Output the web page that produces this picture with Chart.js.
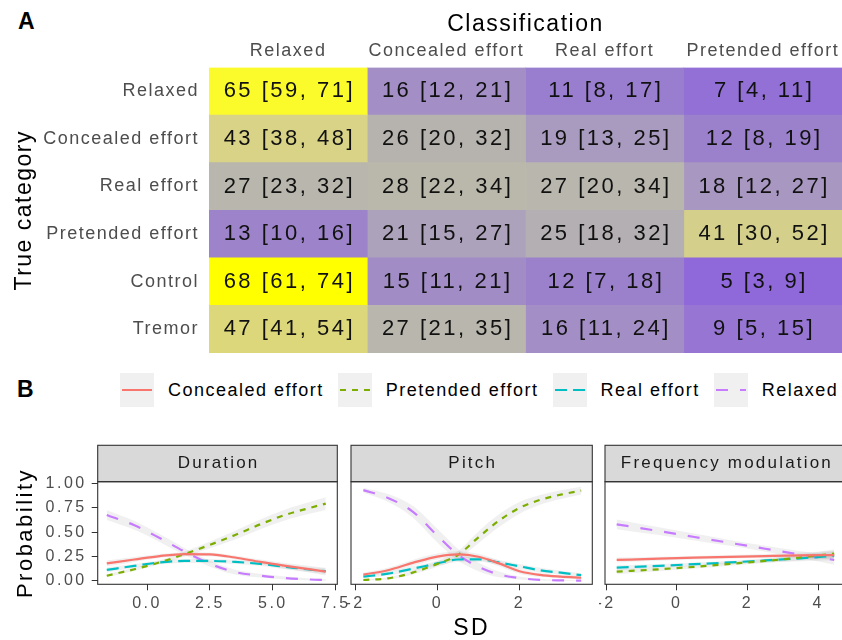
<!DOCTYPE html>
<html>
<head>
<meta charset="utf-8">
<script src="https://cdn.jsdelivr.net/npm/chart.js@4.4.1/dist/chart.umd.min.js"></script>
<style>
    html, body { margin: 0; padding: 0; background: #fff; width: 842px; height: 640px; overflow: hidden; }
    body { position: relative; font-family: 'Liberation Sans', Arial, sans-serif; }
    canvas.chart { position: absolute; }
    .tag { position: absolute; font-size: 23px; line-height: 23px; font-weight: bold; color: #000; }
    #legend { position: absolute; left: 120px; top: 373px; display: flex; align-items: center; }
    #legend .item { display: flex; align-items: center; margin-right: 14px; }
    #legend canvas { margin-right: 14px; }
    #legend span { font-size: 18px; letter-spacing: 1.5px; color: #000; white-space: nowrap; }
</style>
</head>
<body>
<div class="tag" style="left:18px;top:10px">A</div>
<div class="tag" style="left:17px;top:378px">B</div>
<canvas id="heat" class="chart" width="842" height="360" style="left:0;top:0"></canvas>
<div id="legend"></div>
<canvas id="fDur" class="chart" width="352" height="200" style="left:0;top:440px"></canvas>
<canvas id="fPit" class="chart" width="252" height="200" style="left:345px;top:440px"></canvas>
<canvas id="fFre" class="chart" width="260" height="200" style="left:599px;top:440px"></canvas>

<script>
// --- Panel A data: confusion matrix (% with 95% interval) ---
const rowNames = ['Relaxed', 'Concealed effort', 'Real effort', 'Pretended effort', 'Control', 'Tremor'];
const colNames = ['Relaxed', 'Concealed effort', 'Real effort', 'Pretended effort'];
const estimate = [
    [65, 16, 11, 7],
    [43, 26, 19, 12],
    [27, 28, 27, 18],
    [13, 21, 25, 41],
    [68, 15, 12, 5],
    [47, 27, 16, 9]
];
const lower = [
    [59, 12, 8, 4],
    [38, 20, 13, 8],
    [23, 22, 20, 12],
    [10, 15, 18, 30],
    [61, 11, 7, 3],
    [41, 21, 11, 5]
];
const upper = [
    [71, 21, 17, 11],
    [48, 32, 25, 19],
    [32, 34, 34, 27],
    [16, 27, 32, 52],
    [74, 21, 18, 9],
    [54, 35, 24, 15]
];

// --- Panel B data: predicted probabilities (and ribbon half-widths) ---
const seriesNames = ['Concealed effort', 'Pretended effort', 'Real effort', 'Relaxed'];

const durX = [-1.6, -0.5, 0.5, 1.5, 2.5, 3.5, 4.5, 5.5, 6.5, 7.1];
const durConcealed = [0.18, 0.22, 0.255, 0.275, 0.272, 0.24, 0.195, 0.155, 0.118, 0.095];
const durPretended = [0.054, 0.12, 0.19, 0.276, 0.37, 0.47, 0.58, 0.677, 0.75, 0.792];
const durReal = [0.113, 0.155, 0.19, 0.205, 0.205, 0.195, 0.175, 0.145, 0.115, 0.1];
const durRelaxed = [0.675, 0.57, 0.44, 0.3, 0.176, 0.091, 0.055, 0.03, 0.015, 0.01];
const durConcealedSe = [0.03, 0.025, 0.02, 0.02, 0.02, 0.02, 0.025, 0.03, 0.035, 0.04];
const durPretendedSe = [0.015, 0.015, 0.02, 0.025, 0.035, 0.045, 0.05, 0.055, 0.06, 0.065];
const durRealSe = [0.025, 0.02, 0.02, 0.02, 0.02, 0.02, 0.02, 0.025, 0.025, 0.03];
const durRelaxedSe = [0.05, 0.045, 0.04, 0.035, 0.03, 0.025, 0.02, 0.015, 0.01, 0.008];

const pitX = [-1.8, -1.2, -0.6, 0, 0.5, 1, 1.5, 2, 2.5, 3, 3.5];
const pitConcealed = [0.065, 0.11, 0.185, 0.25, 0.273, 0.248, 0.18, 0.1, 0.062, 0.044, 0.033];
const pitPretended = [0.01, 0.027, 0.085, 0.175, 0.266, 0.447, 0.617, 0.748, 0.83, 0.883, 0.925];
const pitReal = [0.044, 0.075, 0.125, 0.18, 0.22, 0.222, 0.19, 0.15, 0.11, 0.085, 0.06];
const pitRelaxed = [0.93, 0.85, 0.71, 0.465, 0.27, 0.145, 0.067, 0.03, 0.012, 0.006, 0.004];
const pitConcealedSe = [0.02, 0.025, 0.03, 0.03, 0.03, 0.03, 0.03, 0.025, 0.02, 0.015, 0.015];
const pitPretendedSe = [0.008, 0.012, 0.02, 0.03, 0.04, 0.06, 0.065, 0.06, 0.05, 0.045, 0.04];
const pitRealSe = [0.015, 0.02, 0.025, 0.025, 0.025, 0.025, 0.025, 0.025, 0.025, 0.02, 0.02];
const pitRelaxedSe = [0.025, 0.04, 0.06, 0.07, 0.06, 0.045, 0.03, 0.015, 0.008, 0.005, 0.004];

const freX = [-1.7, -0.5, 0.5, 1.5, 2.5, 3.5, 4.45];
const freConcealed = [0.215, 0.228, 0.238, 0.247, 0.255, 0.262, 0.265];
const frePretended = [0.095, 0.12, 0.145, 0.175, 0.205, 0.24, 0.28];
const freReal = [0.136, 0.155, 0.172, 0.19, 0.21, 0.232, 0.258];
const freRelaxed = [0.58, 0.51, 0.45, 0.39, 0.33, 0.27, 0.215];
const freConcealedSe = [0.025, 0.02, 0.018, 0.018, 0.02, 0.03, 0.045];
const frePretendedSe = [0.025, 0.02, 0.018, 0.018, 0.02, 0.03, 0.045];
const freRealSe = [0.025, 0.02, 0.018, 0.018, 0.02, 0.03, 0.045];
const freRelaxedSe = [0.05, 0.04, 0.035, 0.03, 0.03, 0.035, 0.05];

// --- Styles ---
const FONT = "'Liberation Sans', Arial, sans-serif";
Chart.defaults.font.family = FONT;

const fillStops = [
    [5, '#8f69da'], [12, '#9b80cc'], [19, '#a99bbf'], [27, '#b8b6ad'],
    [43, '#d8d386'], [47, '#dcd77b'], [65, '#fbfa2b'], [68, '#ffff00']
];
const seriesColors = ['#F8766D', '#7CAE00', '#00BFC4', '#C77CFF'];
const seriesDash = [[], [6, 6], [12, 6], [12, 12]];
const ribbonFill = 'rgba(128, 128, 128, 0.12)';

function hexToRgb(h) {
    return [1, 3, 5].map(i => parseInt(h.slice(i, i + 2), 16));
}

function fillFor(v) {
    let i = 1;
    while (i < fillStops.length - 1 && v > fillStops[i][0]) i++;
    const [v0, c0] = fillStops[i - 1];
    const [v1, c1] = fillStops[i];
    const t = Math.min(1, Math.max(0, (v - v0) / (v1 - v0)));
    const a = hexToRgb(c0), b = hexToRgb(c1);
    return 'rgb(' + a.map((x, k) => Math.round(x + (b[k] - x) * t)).join(',') + ')';
}

// letter spacing for all text Chart.js draws on a canvas
function spacing(px) {
    return { id: 'spacing', beforeDraw(chart) { chart.ctx.letterSpacing = px; } };
}

// --- Panel A: heatmap from stacked horizontal bars ---
const cellText = {
    id: 'cellText',
    afterDatasetsDraw(chart) {
        const ctx = chart.ctx;
        ctx.save();
        ctx.font = '22px ' + FONT;
        ctx.letterSpacing = '2.5px';
        ctx.fillStyle = '#111';
        ctx.textAlign = 'center';
        ctx.textBaseline = 'middle';
        chart.data.datasets.forEach((ds, c) => {
            chart.getDatasetMeta(c).data.forEach((bar, r) => {
                const txt = estimate[r][c] + ' [' + lower[r][c] + ', ' + upper[r][c] + ']';
                ctx.fillText(txt, (bar.x + bar.base) / 2 + 1.25, bar.y);
            });
        });
        ctx.restore();
    }
};

new Chart(document.getElementById('heat'), {
    type: 'bar',
    data: {
        labels: rowNames,
        datasets: colNames.map((name, c) => ({
            label: name,
            data: rowNames.map(() => 1),
            backgroundColor: rowNames.map((_, r) => fillFor(estimate[r][c])),
            borderWidth: 0,
            barPercentage: 1,
            categoryPercentage: 1
        }))
    },
    options: {
        indexAxis: 'y',
        responsive: false,
        animation: false,
        layout: { padding: { top: 0, left: 0, right: 0, bottom: 7 } },
        plugins: { legend: { display: false }, tooltip: { enabled: false } },
        scales: {
            x: {
                type: 'linear',
                position: 'top',
                stacked: true,
                min: 0,
                max: 4,
                afterBuildTicks: s => { s.ticks = colNames.map((_, i) => ({ value: i + 0.5 })); },
                afterFit: s => { s.height = 67.5; s.paddingLeft = 0; s.paddingRight = 0; },
                grid: { display: false, drawTicks: false },
                border: { display: false },
                ticks: {
                    callback: v => colNames[Math.floor(v)],
                    font: { size: 18 },
                    color: '#4d4d4d',
                    padding: 5.5,
                    autoSkip: false,
                    maxRotation: 0
                },
                title: {
                    display: true,
                    text: 'Classification',
                    font: { size: 23, lineHeight: 1 },
                    color: '#000',
                    padding: { top: 13.5, bottom: 0 }
                }
            },
            y: {
                stacked: true,
                afterFit: s => { s.width = 209; s.paddingTop = 0; s.paddingBottom = 0; },
                grid: { display: false, drawTicks: false },
                border: { display: false },
                ticks: { font: { size: 18 }, color: '#4d4d4d', padding: 10 },
                title: {
                    display: true,
                    text: 'True category',
                    font: { size: 23, lineHeight: 1 },
                    color: '#000',
                    padding: { top: 13.5, bottom: 0 }
                }
            }
        }
    },
    plugins: [spacing('1.5px'), cellText]
});

// --- Panel B: facets ---
const facetFrame = {
    id: 'facetFrame',
    afterDraw(chart, args, opts) {
        const ctx = chart.ctx;
        const ca = chart.chartArea;
        ctx.save();
        ctx.fillStyle = '#d9d9d9';
        ctx.fillRect(ca.left, ca.top - 36.4, ca.width, 36.4);
        ctx.strokeStyle = '#333';
        ctx.lineWidth = 1.1;
        ctx.strokeRect(ca.left, ca.top - 36.4, ca.width, 36.4);
        ctx.strokeRect(ca.left, ca.top, ca.width, ca.height);
        ctx.font = '17px ' + FONT;
        ctx.letterSpacing = '2.2px';
        ctx.fillStyle = '#1a1a1a';
        ctx.textAlign = 'center';
        ctx.textBaseline = 'middle';
        ctx.fillText(opts.label, (ca.left + ca.right) / 2 + 1.1, ca.top - 18);
        ctx.restore();
    }
};

const htmlLegend = {
    id: 'htmlLegend',
    afterUpdate(chart, args, opts) {
        const box = document.getElementById(opts.containerID);
        if (!box) return;
        box.innerHTML = '';
        chart.data.datasets.filter(d => d.label).forEach(d => {
            const item = document.createElement('div');
            item.className = 'item';
            const key = document.createElement('canvas');
            key.width = 34;
            key.height = 34;
            const k = key.getContext('2d');
            k.fillStyle = '#f0f0f0';
            k.fillRect(0, 0, 34, 34);
            k.strokeStyle = d.borderColor;
            k.lineWidth = 2;
            k.setLineDash(d.borderDash);
            k.beginPath();
            k.moveTo(2, 17);
            k.lineTo(32, 17);
            k.stroke();
            const txt = document.createElement('span');
            txt.textContent = d.label;
            item.append(key, txt);
            box.append(item);
        });
    }
};

function facetChart(canvasId, label, xs, ys, ses, cfg) {
    const datasets = [];
    ys.forEach((y, s) => {
        datasets.push({
            data: xs.map((x, i) => ({ x: x, y: y[i] + ses[s][i] })),
            fill: '+1',
            backgroundColor: ribbonFill,
            borderWidth: 0,
            pointRadius: 0,
            cubicInterpolationMode: 'monotone',
            order: 2
        });
        datasets.push({
            data: xs.map((x, i) => ({ x: x, y: Math.max(0, y[i] - ses[s][i]) })),
            fill: false,
            borderWidth: 0,
            pointRadius: 0,
            cubicInterpolationMode: 'monotone',
            order: 2
        });
    });
    ys.forEach((y, s) => {
        datasets.push({
            label: seriesNames[s],
            data: xs.map((x, i) => ({ x: x, y: y[i] })),
            borderColor: seriesColors[s],
            borderDash: seriesDash[s],
            borderWidth: 2.2,
            pointRadius: 0,
            fill: false,
            cubicInterpolationMode: 'monotone',
            order: 1
        });
    });

    const plugins = [spacing('2.5px'), facetFrame];
    if (cfg.legend) plugins.push(htmlLegend);

    return new Chart(document.getElementById(canvasId), {
        type: 'line',
        data: { datasets: datasets },
        options: {
            responsive: false,
            animation: false,
            layout: { padding: { top: 41.7, left: cfg.padLeft, right: cfg.padRight, bottom: 0 } },
            plugins: {
                legend: { display: false },
                tooltip: { enabled: false },
                facetFrame: { label: label },
                htmlLegend: { containerID: 'legend' }
            },
            scales: {
                x: {
                    type: 'linear',
                    min: cfg.xMin,
                    max: cfg.xMax,
                    afterBuildTicks: s => { s.ticks = cfg.xTicks.map(v => ({ value: v })); },
                    afterFit: s => { s.height = 55.7; s.paddingLeft = 0; s.paddingRight = 0; },
                    grid: { drawOnChartArea: false, drawTicks: true, tickLength: 6, color: '#333' },
                    border: { display: false },
                    ticks: {
                        callback: cfg.xFormat,
                        font: { size: 16 },
                        color: '#4d4d4d',
                        padding: 4,
                        autoSkip: false,
                        maxRotation: 0
                    },
                    title: {
                        display: !!cfg.xTitle,
                        text: 'SD',
                        font: { size: 23, lineHeight: 1 },
                        color: '#000',
                        padding: { top: 0, bottom: 0 }
                    }
                },
                y: {
                    display: !!cfg.showY,
                    min: -0.034,
                    max: 1.016,
                    afterBuildTicks: s => { s.ticks = [0, 0.25, 0.5, 0.75, 1].map(v => ({ value: v })); },
                    afterFit: s => {
                        s.width = cfg.showY ? 97.7 : 0;
                        s.paddingTop = 0;
                        s.paddingBottom = 0;
                    },
                    grid: { drawOnChartArea: false, drawTicks: true, tickLength: 6, color: '#333' },
                    border: { display: false },
                    ticks: {
                        callback: v => v.toFixed(2),
                        font: { size: 16 },
                        color: '#4d4d4d',
                        padding: 5
                    },
                    title: {
                        display: true,
                        text: 'Probability',
                        font: { size: 22, lineHeight: 1 },
                        color: '#000',
                        padding: { top: 14.5, bottom: 0 }
                    }
                }
            }
        },
        plugins: plugins
    });
}

facetChart('fDur', 'Duration', durX,
    [durConcealed, durPretended, durReal, durRelaxed],
    [durConcealedSe, durPretendedSe, durRealSe, durRelaxedSe],
    { padLeft: 0, padRight: 14.7, xMin: -1.96, xMax: 7.56, xTicks: [0, 2.5, 5, 7.5],
      xFormat: v => v.toFixed(1), showY: true, legend: true });

facetChart('fPit', 'Pitch', pitX,
    [pitConcealed, pitPretended, pitReal, pitRelaxed],
    [pitConcealedSe, pitPretendedSe, pitRealSe, pitRelaxedSe],
    { padLeft: 6, padRight: 4.7, xMin: -2.1, xMax: 3.77, xTicks: [-2, 0, 2],
      xFormat: v => String(v), xTitle: true });

facetChart('fFre', 'Frequency modulation', freX,
    [freConcealed, frePretended, freReal, freRelaxed],
    [freConcealedSe, frePretendedSe, freRealSe, freRelaxedSe],
    { padLeft: 6, padRight: 12.4, xMin: -2.03, xMax: 4.8, xTicks: [-2, 0, 2, 4],
      xFormat: v => String(v) });
</script>
</body>
</html>
